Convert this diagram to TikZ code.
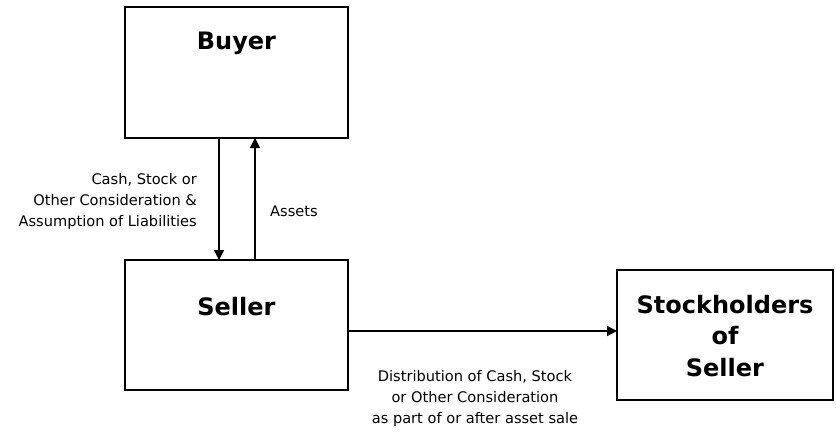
\documentclass[tikz,border=0pt]{standalone}
\usepackage{fontspec}
\setmainfont{DejaVu Sans}
\usetikzlibrary{arrows.meta}
\begin{document}
\begin{tikzpicture}[x=1pt,y=-1pt,
  boxstyle/.style={draw, line width=1.7pt, inner sep=0pt},
  titlestyle/.style={font=\bfseries\fontsize{24}{32}\selectfont, align=center, inner sep=0pt},
  labelstyle/.style={font=\fontsize{14.6}{21}\selectfont, inner sep=0pt},
  arr/.style={line width=1.5pt, -{Triangle[length=10pt,width=10pt]}}]
\useasboundingbox (0,0) rectangle (836,434);
\node[boxstyle, minimum width=223pt, minimum height=131pt] (buyer) at (236.5,72.5) {};
\node[boxstyle, minimum width=223pt, minimum height=130pt] (seller) at (236.5,325) {};
\node[boxstyle, minimum width=216pt, minimum height=130pt] (stock) at (725,335) {};
\node[titlestyle] (buyert) at (236.5,43) {Buyer};
\node[titlestyle] (sellert) at (236.5,307) {Seller};
\node[titlestyle, font=\bfseries\fontsize{24}{31.5}\selectfont] (stockt) at (725,336) {Stockholders\\of\\Seller};
\coordinate (dtop) at (219,138);
\coordinate (dbot) at (219,260);
\coordinate (utop) at (255,138);
\coordinate (ubot) at (255,260);
\draw[arr] (dtop) -- (dbot);
\draw[arr] (ubot) -- (utop);
\coordinate (hstart) at (348,331);
\coordinate (hend) at (617,331);
\draw[arr] (hstart) -- (hend);
\node[labelstyle, align=right, anchor=east] (cashl) at (197,201) {Cash, Stock or\\Other Consideration \&\\Assumption of Liabilities};
\node[labelstyle, anchor=west] (assetsl) at (270,211) {Assets};
\node[labelstyle, align=center] (distl) at (475,398) {Distribution of Cash, Stock\\or Other Consideration\\as part of or after asset sale};
\end{tikzpicture}
\end{document}
